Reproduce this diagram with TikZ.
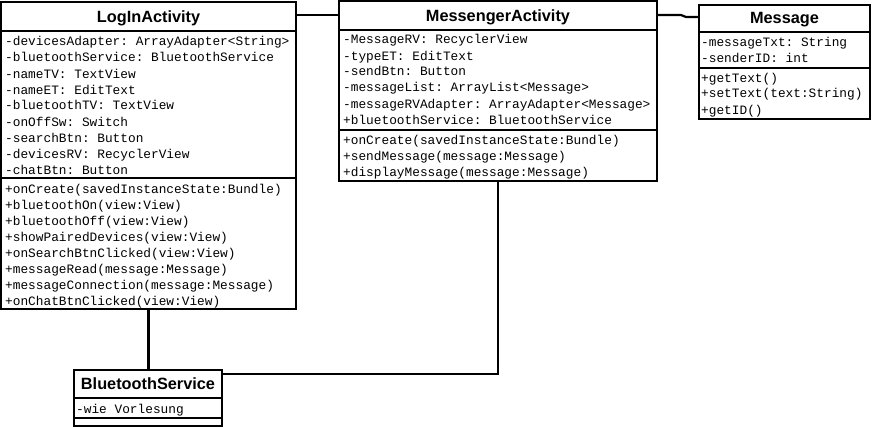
\documentclass[tikz,border=0pt]{standalone}
\usepackage{fontspec}
\newfontfamily\titlefont{Liberation Sans}
\newfontfamily\monofont{Liberation Mono}
\begin{document}
\frenchspacing
\begin{tikzpicture}[x=1pt,y=-1pt,
  box/.style={draw, line width=2pt, rectangle, inner sep=0pt, outer sep=0pt, anchor=north west},
  sep/.style={line width=2pt},
  conn/.style={line width=2.2pt},
  ctitle/.style={font=\titlefont\bfseries\fontsize{16.3}{18}\selectfont, inner sep=0pt, anchor=base},
  row/.style={font=\monofont\fontsize{12.8}{14}\selectfont, inner sep=0pt, anchor=base west}]
\useasboundingbox (0,0) rectangle (873,428);
% boxes
\node[box, minimum width=295pt, minimum height=307pt] (login) at (1,2) {};
\node[box, minimum width=318pt, minimum height=180pt] (messenger) at (339,1) {};
\node[box, minimum width=171pt, minimum height=114pt] (message) at (699,5) {};
\node[box, minimum width=148pt, minimum height=56pt] (bt) at (74,370) {};
% separators
\draw[sep] (login.west |- 0,31) -- (login.east |- 0,31);
\draw[sep] (login.west |- 0,178) -- (login.east |- 0,178);
\draw[sep] (messenger.west |- 0,30) -- (messenger.east |- 0,30);
\draw[sep] (messenger.west |- 0,130) -- (messenger.east |- 0,130);
\draw[sep] (message.west |- 0,32) -- (message.east |- 0,32);
\draw[sep] (message.west |- 0,68) -- (message.east |- 0,68);
\draw[sep] (bt.west |- 0,398) -- (bt.east |- 0,398);
\draw[sep] (bt.west |- 0,418) -- (bt.east |- 0,418);
% titles
\node[ctitle] (loginT) at (148.5,23) {LogInActivity};
\node[ctitle] (messengerT) at (498,22) {MessengerActivity};
\node[ctitle] (messageT) at (784.5,24) {Message};
\node[ctitle] (btT) at (148,389) {BluetoothService};
% LogInActivity rows
\foreach \t [count=\i] in {-devicesAdapter: ArrayAdapter<String>,-bluetoothService: BluetoothService,-nameTV: TextView,-nameET: EditText,-bluetoothTV: TextView,-onOffSw: Switch,-searchBtn: Button,-devicesRV: RecyclerView,-chatBtn: Button}
  \node[row] (la\i) at (5,{46+16*(\i-1)}) {\t};
\foreach \t [count=\i] in {+onCreate(savedInstanceState:Bundle),+bluetoothOn(view:View),+bluetoothOff(view:View),+showPairedDevices(view:View),+onSearchBtnClicked(view:View),+messageRead(message:Message),+messageConnection(message:Message),+onChatBtnClicked(view:View)}
  \node[row] (lm\i) at (5,{193+16*(\i-1)}) {\t};
% MessengerActivity rows
\foreach \t [count=\i] in {-MessageRV: RecyclerView,-typeET: EditText,-sendBtn: Button,-messageList: ArrayList<Message>,-messageRVAdapter: ArrayAdapter<Message>,+bluetoothService: BluetoothService}
  \node[row] (ma\i) at (343,{44+16*(\i-1)}) {\t};
\foreach \t [count=\i] in {+onCreate(savedInstanceState:Bundle),+sendMessage(message:Message),+displayMessage(message:Message)}
  \node[row] (mm\i) at (343,{144+16*(\i-1)}) {\t};
% Message rows
\foreach \t [count=\i] in {-messageTxt: String,-senderID: int}
  \node[row] (ga\i) at (701,{47+16*(\i-1)}) {\t};
\foreach \t [count=\i] in {+getText(),+setText(text:String),+getID()}
  \node[row] (gm\i) at (701,{82+16*(\i-1)}) {\t};
% BluetoothService rows
\node[row] (ba1) at (76,413) {-wie Vorlesung};
% connectors
\draw[conn] (login.east |- 0,15) -- (messenger.west |- 0,15);
\coordinate (k1) at (681,15);
\coordinate (k2) at (686,17);
\draw[conn] (messenger.east |- 0,15) -- (k1) -- (k2) -- (message.west |- 0,17);
\draw[conn] (login.south) -- (login.south |- bt.north);
\draw[conn] (messenger.south) |- (bt.east |- 0,374);
\end{tikzpicture}
\end{document}
